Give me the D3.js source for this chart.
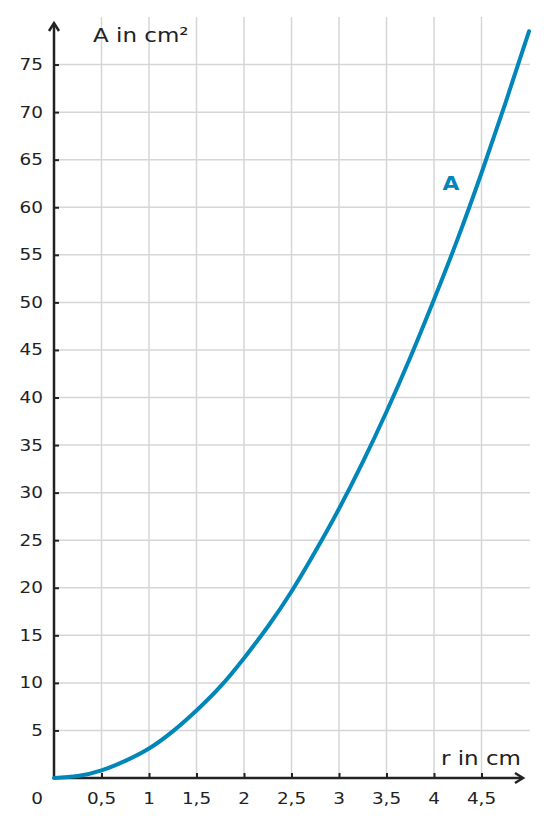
<!DOCTYPE html>
<html>
<head>
<meta charset="utf-8">
<script src="https://cdn.jsdelivr.net/npm/d3@7"></script>
<style>
  body { margin: 0; background: #fff; }
  text { font-family: "DejaVu Sans", sans-serif; fill: #222; }
</style>
</head>
<body>
<div id="chart"></div>
<script>
// radius in cm and area
var radius = [0, 0.25, 0.5, 0.75, 1, 1.25, 1.5, 1.75, 2, 2.25, 2.5, 2.75, 3, 3.25, 3.5, 3.75, 4, 4.25, 4.5, 4.75, 5]
var area = [0, 0.2, 0.8, 1.8, 3.1, 4.9, 7.1, 9.6, 12.6, 15.9, 19.6, 23.8, 28.3, 33.2, 38.5, 44.2, 50.3, 56.7, 63.6, 70.9, 78.5]
var xTicks = [0.5, 1, 1.5, 2, 2.5, 3, 3.5, 4, 4.5]
var yTicks = [5, 10, 15, 20, 25, 30, 35, 40, 45, 50, 55, 60, 65, 70, 75]

var width = 548, height = 827
var stretch = 1.15 // the lettering is a bit wide in the original
var svg = d3.select('#chart').append('svg')
  .attr('width', width)
  .attr('height', height)

var x = d3.scaleLinear().domain([0, 5]).range([54, 529])
var y = d3.scaleLinear().domain([0, 80]).range([778, 17])

var fmt = function(d) { return String(d).replace('.', ',') }

// places a text at (px, py), widened a little
function label(sel, px, py) {
  return sel.attr('transform', function(d, i) {
    var a = typeof px === 'function' ? px(d, i) : px
    var b = typeof py === 'function' ? py(d, i) : py
    return 'translate(' + a + ',' + b + ') scale(' + stretch + ',1)'
  })
}

// grid
svg.append('g').selectAll('line')
  .data(xTicks)
  .enter().append('line')
  .attr('x1', x).attr('x2', x)
  .attr('y1', y(0)).attr('y2', y(80))
  .attr('stroke', '#d6d6d6').attr('stroke-width', 1.5)
svg.append('g').selectAll('line')
  .data(yTicks)
  .enter().append('line')
  .attr('x1', x(0)).attr('x2', 530)
  .attr('y1', y).attr('y2', y)
  .attr('stroke', '#d6d6d6').attr('stroke-width', 1.5)

// axes
var yAxis = d3.axisRight(y).tickValues(yTicks).tickSize(5).tickFormat('')
var xAxis = d3.axisTop(x).tickValues(xTicks).tickSize(5).tickFormat('')
var gy = svg.append('g').attr('transform', 'translate(' + x(0) + ',0)').call(yAxis)
var gx = svg.append('g').attr('transform', 'translate(0,' + y(0) + ')').call(xAxis)
gy.select('.domain').remove()
gx.select('.domain').remove()
svg.selectAll('.tick line').attr('stroke', '#222').attr('stroke-width', 2)

svg.append('line')
  .attr('x1', x(0)).attr('x2', x(0))
  .attr('y1', y(0) + 1).attr('y2', 24)
  .attr('stroke', '#222').attr('stroke-width', 2.5)
svg.append('path')
  .attr('d', 'M' + (x(0) - 5) + ',31 L' + x(0) + ',23 L' + (x(0) + 5) + ',31')
  .attr('fill', 'none').attr('stroke', '#222').attr('stroke-width', 2.5)
svg.append('line')
  .attr('x1', x(0) - 1).attr('x2', 522)
  .attr('y1', y(0)).attr('y2', y(0))
  .attr('stroke', '#222').attr('stroke-width', 2.5)
svg.append('path')
  .attr('d', 'M515,' + (y(0) - 5) + ' L523,' + y(0) + ' L515,' + (y(0) + 5))
  .attr('fill', 'none').attr('stroke', '#222').attr('stroke-width', 2.5)

// tick labels
label(svg.append('g').selectAll('text')
  .data(yTicks)
  .enter().append('text'), 43, function(d) { return y(d) + 5.5 })
  .attr('text-anchor', 'end')
  .style('font-size', '16px')
  .text(fmt)
label(svg.append('g').selectAll('text')
  .data(xTicks)
  .enter().append('text'), x, 804)
  .attr('text-anchor', 'middle')
  .style('font-size', '16px')
  .text(fmt)
label(svg.append('text'), 37, 804)
  .attr('text-anchor', 'middle').style('font-size', '16px').text('0')

label(svg.append('text'), 93, 42)
  .style('font-size', '20px').text('A in cm²')
label(svg.append('text'), 521, 765)
  .attr('text-anchor', 'end').style('font-size', '20px').text('r in cm')

// curve
var line = d3.line()
  .x(function(d) { return x(d[0]) })
  .y(function(d) { return y(d[1]) })
  .curve(d3.curveNatural)
svg.append('path')
  .datum(radius.map(function(r, i) { return [r, area[i]] }))
  .attr('d', line)
  .attr('fill', 'none')
  .attr('stroke', '#0086b9')
  .attr('stroke-width', 4)
  .attr('stroke-linecap', 'round')

label(svg.append('text'), 451, 190)
  .attr('text-anchor', 'middle')
  .style('font-size', '19px').style('font-weight', 'bold')
  .style('fill', '#0086b9')
  .text('A')
</script>
</body>
</html>
